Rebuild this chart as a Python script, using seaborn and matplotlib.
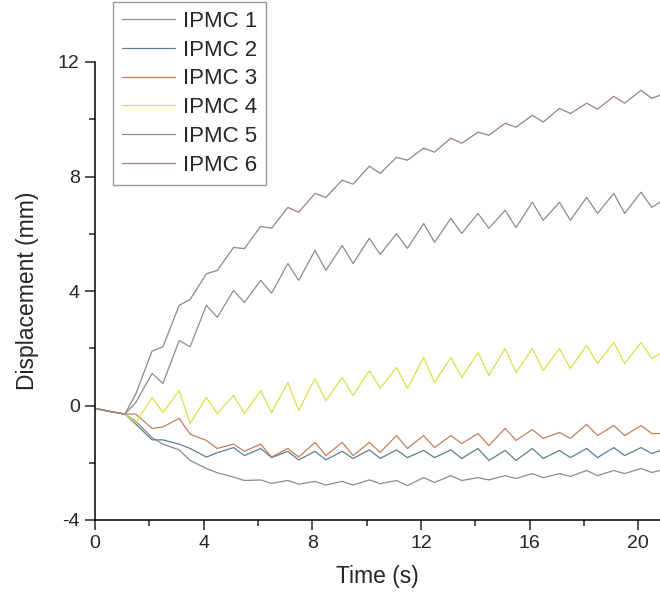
import numpy as np
import pandas as pd
import matplotlib
matplotlib.use("Agg")
import matplotlib.pyplot as plt
from matplotlib.ticker import MultipleLocator
import seaborn as sns

# time points (s): start, then peak / trough of each cycle
time = [0, 0.5,
        1.1, 1.5, 2.1, 2.5, 3.1, 3.5, 4.1, 4.5, 5.1, 5.5, 6.1, 6.5, 7.1, 7.5,
        8.1, 8.5, 9.1, 9.5, 10.1, 10.5, 11.1, 11.5, 12.1, 12.5, 13.1, 13.5,
        14.1, 14.5, 15.1, 15.5, 16.1, 16.5, 17.1, 17.5, 18.1, 18.5, 19.1, 19.5,
        20.1, 20.5, 20.8]

ipmc1 = [-0.1, -0.2,
         -0.3, -0.55, -1.12, -1.35, -1.55, -1.92, -2.2, -2.35, -2.5, -2.62,
         -2.6, -2.72, -2.62, -2.75, -2.65, -2.78, -2.65, -2.78, -2.6, -2.73,
         -2.62, -2.8, -2.52, -2.69, -2.45, -2.62, -2.52, -2.6, -2.45, -2.55,
         -2.38, -2.52, -2.38, -2.48, -2.27, -2.45, -2.27, -2.38, -2.2, -2.34,
         -2.27]
ipmc2 = [-0.1, -0.2,
         -0.3, -0.65, -1.2, -1.2, -1.35, -1.5, -1.8, -1.65, -1.47, -1.75,
         -1.5, -1.82, -1.6, -1.9, -1.6, -1.9, -1.6, -1.85, -1.55, -1.85,
         -1.55, -1.82, -1.57, -1.82, -1.55, -1.85, -1.5, -1.92, -1.57, -1.92,
         -1.5, -1.85, -1.57, -1.82, -1.5, -1.82, -1.47, -1.75, -1.47, -1.68,
         -1.57]
ipmc3 = [-0.1, -0.2,
         -0.3, -0.3, -0.8, -0.75, -0.45, -1.0, -1.22, -1.5, -1.35, -1.6,
         -1.35, -1.8, -1.5, -1.8, -1.29, -1.75, -1.29, -1.75, -1.29, -1.64,
         -1.05, -1.5, -1.05, -1.47, -1.05, -1.33, -0.98, -1.4, -0.8, -1.22,
         -0.84, -1.15, -0.94, -1.15, -0.66, -1.05, -0.7, -1.05, -0.7, -0.98,
         -0.98]
ipmc4 = [-0.1, -0.2,
         -0.3, -0.6, 0.28, -0.25, 0.52, -0.63, 0.28, -0.28, 0.35, -0.28,
         0.52, -0.25, 0.8, -0.17, 0.94, 0.17, 0.98, 0.35, 1.22, 0.6,
         1.33, 0.59, 1.68, 0.8, 1.68, 0.98, 1.85, 1.05, 1.99, 1.15,
         1.99, 1.22, 1.99, 1.29, 2.1, 1.47, 2.2, 1.47, 2.2, 1.64,
         1.82]
ipmc5 = [-0.1, -0.2,
         -0.3, 0.1, 1.12, 0.77, 2.27, 2.05, 3.5, 3.08, 4.02, 3.6,
         4.37, 3.92, 4.96, 4.37, 5.42, 4.72, 5.59, 4.96, 5.84, 5.28,
         6.0, 5.49, 6.36, 5.7, 6.54, 6.01, 6.71, 6.19, 6.82, 6.22,
         7.1, 6.47, 7.1, 6.47, 7.27, 6.71, 7.41, 6.71, 7.45, 6.92,
         7.1]
ipmc6 = [-0.1, -0.2,
         -0.3, 0.4, 1.9, 2.05, 3.5, 3.7, 4.6, 4.72, 5.52, 5.48,
         6.26, 6.19, 6.92, 6.75, 7.41, 7.27, 7.87, 7.73, 8.36, 8.11,
         8.67, 8.57, 8.99, 8.85, 9.34, 9.16, 9.55, 9.44, 9.86, 9.72,
         10.14, 9.9, 10.38, 10.2, 10.56, 10.35, 10.8, 10.56, 11.01, 10.73,
         10.84]

labels = ["IPMC 1", "IPMC 2", "IPMC 3", "IPMC 4", "IPMC 5", "IPMC 6"]
colors = ["#8c8c8c", "#5f7f8e", "#c0805c", "#d9e04a", "#8c8c8c", "#9c8088"]

series = [ipmc1, ipmc2, ipmc3, ipmc4, ipmc5, ipmc6]
frames = []
for lab, vals in zip(labels, series):
    frames.append(pd.DataFrame({"Time": time, "Displacement": vals, "Sample": lab}))
df = pd.concat(frames, ignore_index=True)

sns.set_style("ticks")
plt.rcParams["font.family"] = ["Liberation Sans", "DejaVu Sans"]
plt.rcParams["axes.unicode_minus"] = False

fig = plt.figure(figsize=(6.6, 5.96), dpi=100)
ax = fig.add_axes([95 / 660, 76 / 596, 1 - 95 / 660, 458 / 596])

sns.lineplot(data=df, x="Time", y="Displacement", hue="Sample",
             palette=colors, linewidth=0.9, ax=ax, legend=True)

ax.set_xlim(0, 20.8)
ax.set_ylim(-4, 12)
ax.xaxis.set_major_locator(MultipleLocator(4))
ax.xaxis.set_minor_locator(MultipleLocator(2))
ax.yaxis.set_major_locator(MultipleLocator(4))
ax.yaxis.set_minor_locator(MultipleLocator(2))
ax.tick_params(which="major", length=7, width=1.1, labelsize=14, direction="out", pad=4)
ax.tick_params(which="minor", length=4, width=1.1, direction="out")
ax.set_xlabel("Time (s)", fontsize=16.5, labelpad=9)
ax.set_ylabel("Displacement (mm)", fontsize=16.5, labelpad=14)
sns.despine(ax=ax)
for s in ["left", "bottom"]:
    ax.spines[s].set_linewidth(1.1)
    ax.spines[s].set_color("black")

handles, labs = ax.get_legend_handles_labels()
ax.legend(handles, labs, loc="upper left", bbox_to_anchor=(113 / 660, 1 - 2 / 596),
          bbox_transform=fig.transFigure, borderaxespad=0, fontsize=16,
          frameon=True, fancybox=False, edgecolor="#9a9a9a", framealpha=1,
          borderpad=0.4, labelspacing=0.35, handlelength=2.4, handletextpad=0.35)

fig.savefig("out.png", dpi=100)
